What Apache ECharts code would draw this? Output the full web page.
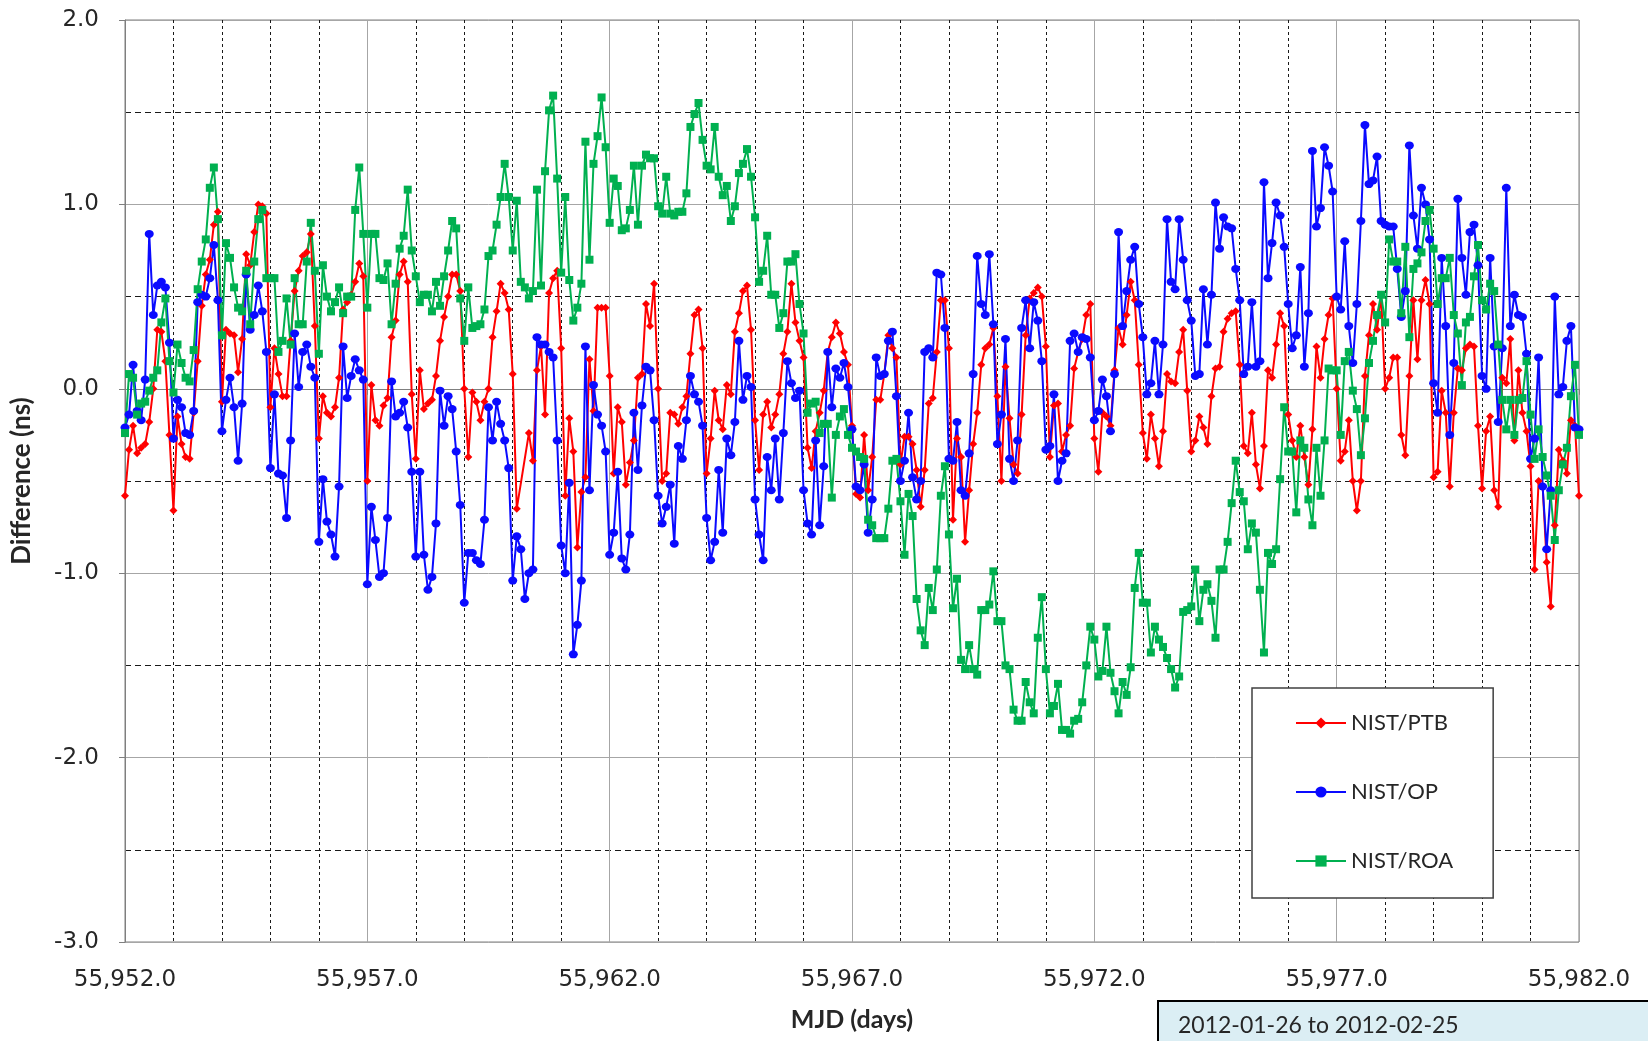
<!DOCTYPE html>
<html>
<head>
<meta charset="utf-8">
<title>NIST time transfer differences</title>
<script src="https://cdn.jsdelivr.net/npm/echarts@6/dist/echarts.min.js"></script>
<style>
  html, body { margin: 0; padding: 0; background: #fff; }
  #diff-chart { width: 1648px; height: 1041px; }
</style>
</head>
<body>
<div id="diff-chart"></div>
<script>
// samples are 2 h apart, first one at MJD 55952.0
const startMjd = 55952
const samplesPerDay = 12
const seriesNames = ['NIST/PTB', 'NIST/OP', 'NIST/ROA']
const periodText = '2012-01-26 to 2012-02-25'

// one line per day (12 samples), last line is the closing sample
const ptb = [
  -0.58, -0.33, -0.2, -0.35, -0.32, -0.3, -0.18, 0.0, 0.32, 0.31, 0.15, -0.25,
  -0.66, -0.15, -0.3, -0.37, -0.38, -0.13, 0.15, 0.45, 0.62, 0.7, 0.89, 0.96,
  -0.07, 0.32, 0.3, 0.29, 0.09, 0.27, 0.73, 0.67, 0.85, 1.0, 0.99, 0.95,
  -0.1, 0.22, 0.08, -0.04, -0.04, 0.26, 0.53, 0.64, 0.72, 0.74, 0.84, 0.34,
  -0.27, -0.04, -0.13, -0.15, -0.1, 0.06, 0.43, 0.47, 0.51, 0.58, 0.68, 0.61,
  -0.5, 0.02, -0.17, -0.2, -0.09, -0.05, 0.28, 0.37, 0.62, 0.69, 0.58, -0.03,
  -0.38, 0.1, -0.11, -0.08, -0.06, 0.07, 0.26, 0.39, 0.5, 0.62, 0.62, 0.53,
  0.0, -0.37, -0.02, -0.07, -0.17, -0.07, 0.0, 0.28, 0.42, 0.57, 0.52, 0.43,
  0.08, -0.65, null, null, -0.24, -0.39, 0.1, 0.23, -0.14, 0.52, 0.6, 0.64,
  0.22, -0.58, -0.16, -0.34, -0.86, -0.56, -0.48, 0.16, -0.12, 0.44, 0.44, 0.44,
  0.07, -0.46, -0.1, -0.18, -0.52, -0.4, -0.28, 0.06, 0.08, 0.46, 0.34, 0.57,
  0.0, -0.5, -0.46, -0.13, -0.14, -0.19, -0.1, -0.04, 0.19, 0.4, 0.43, 0.22,
  -0.46, -0.27, -0.01, -0.17, -0.22, 0.02, -0.03, 0.31, 0.41, 0.53, 0.56, 0.32,
  -0.17, -0.44, -0.14, -0.07, -0.21, -0.14, -0.03, 0.19, 0.31, 0.57, 0.36, 0.26,
  0.17, -0.32, -0.43, -0.23, -0.13, -0.01, 0.2, 0.28, 0.36, 0.3, 0.2, 0.13,
  -0.2, -0.57, -0.59, -0.25, -0.55, -0.37, -0.06, -0.06, 0.08, 0.29, 0.22, 0.17,
  -0.41, -0.26, -0.26, -0.3, -0.44, -0.64, -0.44, -0.08, -0.05, 0.2, 0.48, 0.48,
  0.22, -0.71, -0.27, -0.37, -0.83, -0.55, -0.3, -0.13, 0.13, 0.22, 0.24, 0.33,
  -0.04, -0.5, 0.12, -0.16, -0.41, -0.46, -0.14, 0.29, 0.49, 0.52, 0.55, 0.5,
  0.23, -0.37, -0.09, -0.08, -0.34, -0.25, -0.2, 0.11, 0.2, 0.27, 0.4, 0.46,
  -0.27, -0.45, -0.13, -0.15, -0.2, 0.1, 0.33, 0.24, 0.4, 0.58, 0.48, 0.13,
  -0.24, -0.38, -0.14, -0.27, -0.42, -0.23, 0.08, 0.04, 0.03, 0.2, 0.32, -0.01,
  -0.34, -0.28, -0.15, -0.21, -0.3, -0.04, 0.11, 0.12, 0.31, 0.38, 0.41, 0.42,
  0.13, -0.31, -0.35, -0.13, -0.41, -0.54, -0.31, 0.1, 0.06, 0.24, 0.41, 0.34,
  -0.14, -0.28, -0.37, -0.2, -0.37, -0.52, -0.22, 0.23, 0.06, 0.27, 0.4, 0.49,
  0.0, -0.39, -0.34, -0.17, -0.5, -0.66, -0.5, 0.07, 0.29, 0.46, 0.32, 0.51,
  0.0, 0.06, 0.17, 0.17, -0.25, -0.36, 0.07, 0.48, 0.16, 0.48, 0.59, 0.46,
  -0.48, -0.45, -0.01, -0.13, -0.53, -0.13, 0.11, 0.1, 0.22, 0.24, 0.23, -0.2,
  -0.54, -0.23, -0.15, -0.55, -0.64, 0.06, 0.03, 0.27, -0.28, 0.1, -0.13, -0.23,
  -0.42, -0.98, -0.5, -0.53, -0.94, -1.18, -0.74, -0.33, -0.39, -0.46, -0.17, -0.2,
  -0.58
]

const op = [
  -0.21, -0.14, 0.13, -0.12, -0.17, 0.05, 0.84, 0.4, 0.56, 0.58, 0.55, 0.25,
  -0.27, -0.06, -0.1, -0.24, -0.25, -0.12, 0.47, 0.51, 0.5, 0.6, 0.78, 0.48,
  -0.23, -0.06, 0.06, -0.1, -0.39, -0.08, 0.62, 0.32, 0.4, 0.56, 0.42, 0.2,
  -0.43, -0.03, -0.46, -0.47, -0.7, -0.28, 0.3, 0.01, 0.2, 0.24, 0.12, 0.06,
  -0.83, -0.49, -0.72, -0.79, -0.91, -0.53, 0.23, -0.05, 0.07, 0.16, 0.1, 0.05,
  -1.06, -0.64, -0.82, -1.02, -1.0, -0.7, 0.04, -0.15, -0.13, -0.07, -0.21, -0.45,
  -0.91, -0.45, -0.9, -1.09, -1.02, -0.73, -0.01, -0.2, -0.04, -0.11, -0.34, -0.63,
  -1.16, -0.89, -0.89, -0.93, -0.95, -0.71, -0.1, -0.28, -0.07, -0.19, -0.28, -0.43,
  -1.04, -0.8, -0.87, -1.14, -1.0, -0.98, 0.28, 0.24, 0.24, 0.2, 0.17, -0.28,
  -0.85, -1.0, -0.51, -1.44, -1.28, -1.04, 0.23, -0.55, 0.02, -0.14, -0.2, -0.34,
  -0.9, -0.78, -0.45, -0.92, -0.98, -0.79, -0.13, -0.44, -0.09, 0.12, 0.1, -0.17,
  -0.58, -0.73, -0.64, -0.52, -0.84, -0.31, -0.38, -0.17, 0.07, -0.03, -0.07, -0.2,
  -0.7, -0.93, -0.83, -0.44, -0.78, -0.27, -0.36, -0.18, 0.26, -0.06, 0.07, 0.01,
  -0.6, -0.79, -0.93, -0.37, -0.55, -0.27, -0.6, -0.24, 0.15, 0.03, -0.05, -0.01,
  -0.55, -0.73, -0.79, -0.28, -0.74, -0.42, 0.2, -0.1, 0.11, 0.06, 0.14, 0.01,
  -0.22, -0.53, -0.55, -0.41, -0.78, -0.6, 0.17, 0.07, 0.08, 0.26, 0.31, -0.04,
  -0.5, -0.39, -0.13, -0.48, -0.6, -0.5, 0.2, 0.22, 0.17, 0.63, 0.62, 0.33,
  -0.38, -0.39, -0.18, -0.55, -0.58, -0.35, 0.08, 0.72, 0.46, 0.4, 0.73, 0.35,
  -0.3, -0.14, 0.27, -0.38, -0.5, -0.28, 0.33, 0.48, 0.22, 0.47, 0.37, 0.15,
  -0.33, -0.31, -0.03, -0.5, -0.39, -0.35, 0.26, 0.3, 0.2, 0.28, 0.27, 0.17,
  -0.17, -0.12, 0.05, -0.04, -0.23, 0.08, 0.85, 0.34, 0.53, 0.7, 0.77, 0.46,
  0.28, -0.03, 0.03, 0.26, -0.03, 0.24, 0.92, 0.58, 0.54, 0.92, 0.7, 0.48,
  0.37, 0.07, 0.08, 0.54, 0.24, 0.51, 1.01, 0.76, 0.93, 0.88, 0.87, 0.65,
  0.48, 0.08, 0.12, 0.47, 0.12, 0.15, 1.12, 0.6, 0.79, 1.01, 0.94, 0.77,
  0.46, 0.22, 0.29, 0.66, 0.12, 0.41, 1.29, 0.88, 0.98, 1.31, 1.21, 1.07,
  0.5, 0.43, 0.8, 0.34, 0.14, 0.46, 0.91, 1.43, 1.11, 1.13, 1.26, 0.91,
  0.89, 0.88, 0.88, 0.65, 0.39, 0.53, 1.32, 0.94, 0.76, 1.09, 1.0, 0.81,
  0.03, -0.13, 0.71, 0.34, -0.25, 0.14, 1.03, 0.71, 0.51, 0.85, 0.89, 0.67,
  0.07, 0.0, 0.71, 0.23, -0.18, 0.22, 1.09, 0.34, 0.51, 0.4, 0.39, 0.19,
  -0.38, -0.27, 0.17, -0.53, -0.87, -0.55, 0.5, -0.03, 0.01, 0.26, 0.34, -0.21,
  -0.22
]

const roa = [
  -0.24, 0.08, 0.06, -0.14, -0.08, -0.07, -0.01, 0.06, 0.1, 0.36, 0.49, 0.15,
  -0.02, 0.24, 0.14, 0.06, 0.04, 0.21, 0.54, 0.69, 0.81, 1.09, 1.2, 0.92,
  0.29, 0.79, 0.71, 0.55, 0.44, 0.42, 0.64, 0.35, 0.69, 0.92, 0.97, 0.6,
  0.6, 0.6, 0.2, 0.26, 0.49, 0.24, 0.6, 0.35, 0.35, 0.69, 0.9, 0.64,
  0.19, 0.67, 0.5, 0.42, 0.47, 0.55, 0.41, 0.5, 0.5, 0.97, 1.2, 0.84,
  0.44, 0.84, 0.84, 0.6, 0.59, 0.68, 0.35, 0.57, 0.76, 0.83, 1.08, 0.75,
  0.61, 0.47, 0.51, 0.51, 0.42, 0.58, 0.45, 0.61, 0.75, 0.91, 0.87, 0.49,
  0.26, 0.55, 0.33, 0.34, 0.35, 0.43, 0.72, 0.75, 0.89, 1.04, 1.22, 1.04,
  0.75, 1.02, 0.58, 0.55, 0.49, 0.53, 1.08, 0.56, 1.18, 1.51, 1.59, 1.14,
  0.63, 1.04, 0.59, 0.37, 0.44, 0.57, 1.34, 0.7, 1.22, 1.37, 1.58, 1.31,
  0.9, 1.14, 1.1, 0.86, 0.87, 0.97, 1.21, 0.89, 1.21, 1.27, 1.25, 1.25,
  0.99, 0.95, 1.15, 0.95, 0.94, 0.96, 0.96, 1.06, 1.42, 1.49, 1.55, 1.35,
  1.21, 1.19, 1.42, 1.15, 1.05, 1.1, 0.91, 0.99, 1.17, 1.22, 1.3, 1.15,
  0.93, 0.58, 0.64, 0.83, 0.51, 0.51, 0.33, 0.41, 0.69, 0.69, 0.73, 0.46,
  0.3, -0.13, -0.08, -0.07, -0.24, -0.19, -0.19, -0.59, -0.25, -0.15, -0.11, -0.25,
  -0.32, -0.34, -0.37, -0.38, -0.71, -0.74, -0.81, -0.81, -0.81, -0.65, -0.39, -0.38,
  -0.61, -0.9, -0.57, -0.69, -1.14, -1.31, -1.39, -1.08, -1.2, -0.98, -0.58, -0.42,
  -0.79, -1.19, -1.03, -1.47, -1.52, -1.39, -1.52, -1.55, -1.2, -1.2, -1.17, -0.99,
  -1.26, -1.26, -1.5, -1.52, -1.74, -1.8, -1.8, -1.59, -1.7, -1.76, -1.35, -1.13,
  -1.52, -1.76, -1.72, -1.6, -1.85, -1.85, -1.87, -1.8, -1.79, -1.7, -1.5, -1.29,
  -1.36, -1.56, -1.53, -1.29, -1.54, -1.64, -1.76, -1.59, -1.66, -1.51, -1.08, -0.89,
  -1.16, -1.16, -1.43, -1.29, -1.36, -1.4, -1.46, -1.52, -1.62, -1.56, -1.21, -1.2,
  -1.18, -0.98, -1.26, -1.09, -1.06, -1.15, -1.35, -0.98, -0.98, -0.83, -0.62, -0.39,
  -0.56, -0.61, -0.87, -0.73, -0.78, -1.09, -1.43, -0.89, -0.95, -0.87, -0.49, -0.1,
  -0.34, -0.34, -0.67, -0.28, -0.32, -0.6, -0.74, -0.32, -0.58, -0.28, 0.11, 0.1,
  0.1, -0.25, 0.15, 0.2, -0.01, -0.11, -0.36, -0.16, 0.14, 0.26, 0.4, 0.51,
  0.36, 0.81, 0.69, 0.69, 0.41, 0.77, 0.28, 0.65, 0.68, 0.74, 0.91, 0.97,
  0.76, 0.46, 0.6, 0.6, 0.71, 0.4, 0.3, 0.02, 0.36, 0.39, 0.61, 0.78,
  0.48, 0.43, 0.57, 0.53, 0.24, -0.06, -0.22, -0.06, -0.25, -0.06, -0.05, 0.15,
  -0.14, -0.38, -0.22, -0.37, -0.47, -0.58, -0.82, -0.55, -0.41, -0.32, -0.04, 0.13,
  -0.25
]

const toPairs = arr => arr.map((v, i) => [startMjd + i / samplesPerDay, v])

const makeSeries = (name, values, color, symbol, size) => ({
  name: name,
  type: 'line',
  data: toPairs(values),
  connectNulls: true,
  symbol: symbol,
  symbolSize: size,
  showAllSymbol: true,
  color: color,
  lineStyle: { color: color, width: 2 },
  itemStyle: { color: color },
  animation: false
})

const myChart = echarts.init(document.getElementById('diff-chart'))
myChart.setOption({
  backgroundColor: '#fff',
  grid: {
    left: 125,
    right: 69,
    top: 20,
    bottom: 99,
    show: true,
    borderColor: '#7f7f7f',
    borderWidth: 1,
    outerBoundsMode: 'none'
  },
  legend: {
    orient: 'vertical',
    left: 1252,
    top: 688,
    itemWidth: 50,
    itemHeight: 14,
    itemGap: 47,
    padding: [24, 40, 26, 43],
    backgroundColor: '#fff',
    borderColor: '#404040',
    borderWidth: 1.5,
    borderRadius: 0,
    textStyle: { fontFamily: 'Lato', fontSize: 22, color: '#262626' },
    data: seriesNames
  },
  xAxis: {
    type: 'value',
    min: 55952,
    max: 55982,
    interval: 5,
    name: 'MJD (days)',
    nameLocation: 'middle',
    nameGap: 65,
    nameTextStyle: { fontFamily: 'Lato', fontWeight: 'bold', fontSize: 25, color: '#262626' },
    axisLine: { show: true, lineStyle: { color: '#7f7f7f', width: 1 } },
    axisTick: { show: true, length: 6, lineStyle: { color: '#7f7f7f' } },
    axisLabel: {
      margin: 27,
      fontFamily: 'DejaVu Sans',
      fontSize: 23,
      color: '#262626',
      formatter: v => v.toLocaleString('en-US', { minimumFractionDigits: 1, maximumFractionDigits: 1 })
    },
    splitLine: { show: true, lineStyle: { color: '#a6a6a6', width: 1 } },
    minorTick: { show: false, splitNumber: 5 },
    minorSplitLine: { show: true, lineStyle: { color: '#1a1a1a', width: 1, type: [3, 3] } }
  },
  yAxis: {
    type: 'value',
    min: -3,
    max: 2,
    interval: 1,
    name: 'Difference (ns)',
    nameLocation: 'middle',
    nameRotate: 90,
    nameGap: 90,
    nameTextStyle: { fontFamily: 'Lato', fontWeight: 'bold', fontSize: 26, color: '#262626' },
    axisLine: { show: true, lineStyle: { color: '#7f7f7f', width: 1 } },
    axisTick: { show: true, length: 6, lineStyle: { color: '#7f7f7f' } },
    axisLabel: {
      margin: 26,
      fontFamily: 'DejaVu Sans',
      fontSize: 23,
      color: '#262626',
      formatter: v => v.toFixed(1)
    },
    splitLine: { show: true, lineStyle: { color: '#a6a6a6', width: 1 } },
    minorTick: { show: false, splitNumber: 2 },
    minorSplitLine: { show: true, lineStyle: { color: '#1a1a1a', width: 1, type: [6, 4] } }
  },
  series: [
    makeSeries(seriesNames[0], ptb, '#ff0000', 'diamond', 8),
    makeSeries(seriesNames[1], op, '#0a0aff', 'circle', [9, 8]),
    makeSeries(seriesNames[2], roa, '#00b050', 'rect', 8)
  ],
  graphic: [{
    type: 'group',
    left: 1157,
    top: 1000,
    children: [{
      type: 'rect',
      shape: { x: 0, y: 0, width: 520, height: 60 },
      style: { fill: '#dbeef4', stroke: '#000', lineWidth: 2 }
    }, {
      type: 'text',
      x: 20,
      y: 25,
      style: {
        text: periodText,
        fontFamily: 'Lato',
        fontSize: 23,
        fill: '#262626',
        verticalAlign: 'middle'
      }
    }]
  }]
})

window.addEventListener('resize', () => { myChart.resize() })
</script>
</body>
</html>
